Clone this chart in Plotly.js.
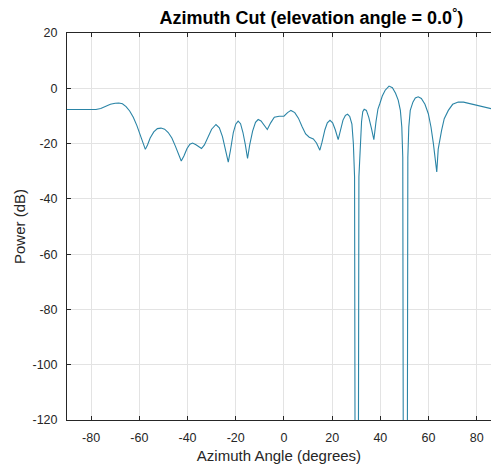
<!DOCTYPE html>
<html>
<head>
<meta charset="utf-8">
<script src="https://cdn.plot.ly/plotly-3.0.1.min.js"></script>
<style>html,body{margin:0;padding:0;background:#fff;}</style>
</head>
<body>
<div id="chart" style="width:491px;height:471px;"></div>
<script>
const azimuthDeg = [
  -90, -84, -78, -76, -74, -72, -70, -68.5, -67, -65.5, -64, -62.5, -61, -59.5, -58.3, -57.5,
  -56.6, -55.5, -54, -52.5, -51, -49.5, -48, -46.5, -45, -43.8, -42.6, -41.5, -40.2, -39, -37.9,
  -36.5, -35, -34.2, -33, -31.5, -30, -28.2, -26.8, -25.5, -24.3, -23.1, -22.2, -21, -20, -19,
  -18, -17, -16, -15.1, -14.2, -13, -11.8, -10.7, -9.5, -8.2, -6.9, -5.5, -4, -2, 0, 1.5, 2.9,
  4.5, 6, 7.5, 9, 10.5, 12.2, 13.5, 14.9, 15.8, 17, 18, 19.1, 20.2, 21.3, 22.5, 23.5, 24.5, 25.5,
  26.4, 27.3, 28.2, 28.8, 29.3, 29.5, 30.9, 31.1, 31.6, 32.2, 32.7, 33.3, 34.2, 35.2, 36.3, 37.3,
  38.2, 39, 39.8, 40.8, 42, 43.6, 45, 46.3, 47.4, 48.3, 48.9, 49.3, 49.5, 51.2, 51.4, 51.8, 52.4,
  53.5, 54.5, 55.7, 57, 58.5, 59.9, 61, 62, 62.8, 63.4, 64, 64.7, 65.4, 66.5, 68.2, 70, 72.3,
  74.5, 77, 80, 83, 86, 90
];
const powerDb = [
  -7.7, -7.7, -7.7, -7.3, -6.5, -5.8, -5.4, -5.3, -5.6, -6.6, -8.2, -10.5, -13.5, -17, -20, -22.1,
  -20.5, -18, -15.8, -14.6, -14.4, -14.8, -16, -18, -21, -24, -26.3, -24.5, -21.8, -20.2, -19.8,
  -20.4, -21.5, -21.8, -20.5, -17.5, -14.8, -13.1, -14.3, -17.5, -22, -26.7, -22.5, -16, -13, -11.9,
  -12.8, -16, -20.5, -25.4, -20.5, -15.5, -12.3, -11.3, -11.8, -13.2, -14.9, -12.5, -10.5, -10.1, -10.1, -8.8, -8,
  -8.8, -10.8, -13.8, -16.5, -17.7, -18.3, -19.8, -22.4, -19.5, -15, -12.5, -11.6, -12.5, -15, -18.6, -14.5, -11.5, -9.8,
  -9.4, -10.2, -13, -20, -32, -130, -130, -32, -20, -12, -8.5, -7.6, -8, -10.5, -14.5, -18.6,
  -12, -7.5, -5.5, -2.8, -0.7, 0.8, 0.2, -1.8, -4.3, -8, -14, -25, -130, -130, -25, -14, -8,
  -5, -3.5, -3.1, -3.7, -5.8, -9.2, -14, -20, -26, -30.3, -22, -18, -15.2, -11, -8, -5.8, -5,
  -5, -5.5, -6.2, -6.9, -7.4, -7.8
];
const xTicks = [-80, -60, -40, -20, 0, 20, 40, 60, 80];
const yTicks = [-120, -100, -80, -60, -40, -20, 0, 20];

const axisColor = '#262626';
const gridColor = '#e3e3e3';
const fontFam = '"Liberation Sans", Arial, Helvetica, sans-serif';

const trace = {
  x: azimuthDeg,
  y: powerDb,
  type: 'scatter',
  mode: 'lines',
  line: {color: '#2a84a6', width: 1.1},
  hoverinfo: 'x+y'
};

const layout = {
  width: 491,
  height: 471,
  margin: {l: 67, r: 0, t: 33, b: 51},
  paper_bgcolor: '#ffffff',
  plot_bgcolor: '#ffffff',
  showlegend: false,
  font: {family: fontFam, size: 12.5, color: axisColor},
  title: {
    text: 'Azimuth Cut (elevation angle = 0.0<sup>°</sup>)',
    font: {family: fontFam, size: 18, color: '#000000', weight: 'bold'},
    x: 283/491, xanchor: 'center', xref: 'paper',
    y: 1 - 18/471, yanchor: 'middle'
  },
  xaxis: {
    range: [-90, 85.9],
    tickvals: xTicks,
    ticktext: xTicks.map(String),
    ticks: 'inside', ticklen: 4, tickcolor: axisColor, tickwidth: 1,
    showline: true, linecolor: axisColor, linewidth: 1, mirror: 'ticks',
    showgrid: true, gridcolor: gridColor, gridwidth: 1,
    zeroline: false,
    ticklabelstandoff: 6,
    tickfont: {family: fontFam, size: 12.5, color: axisColor},
    title: {text: 'Azimuth Angle (degrees)', font: {family: fontFam, size: 15, color: axisColor}, standoff: 6}
  },
  yaxis: {
    range: [-120, 20],
    tickvals: yTicks,
    ticktext: yTicks.map(String),
    ticks: 'inside', ticklen: 4, tickcolor: axisColor, tickwidth: 1,
    showline: true, linecolor: axisColor, linewidth: 1, mirror: false,
    showgrid: true, gridcolor: gridColor, gridwidth: 1,
    zeroline: false,
    ticklabelstandoff: 6,
    tickfont: {family: fontFam, size: 12.5, color: axisColor},
    title: {text: 'Power (dB)', font: {family: fontFam, size: 15, color: axisColor}, standoff: 3}
  }
};

Plotly.newPlot('chart', [trace], layout, {displayModeBar: false, staticPlot: true});
</script>
</body>
</html>
